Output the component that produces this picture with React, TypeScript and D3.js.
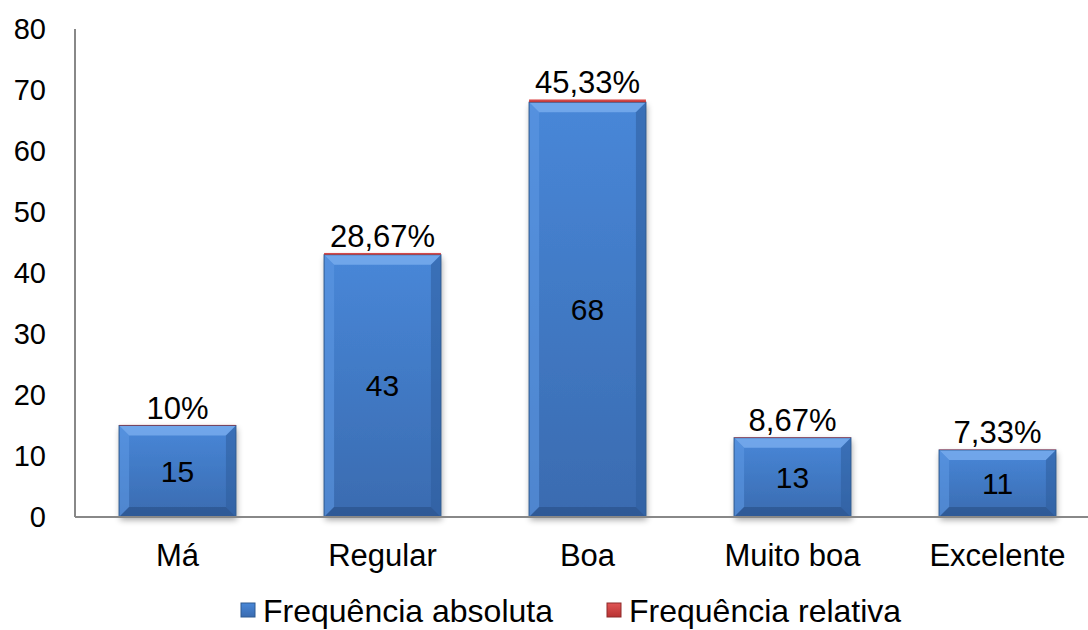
import React from "react";
import * as d3 from "d3";

const categories = ["Má", "Regular", "Boa", "Muito boa", "Excelente"];
const absoluteFreq = [15, 43, 68, 13, 11];
const relativeFreq = [0.1, 0.2867, 0.4533, 0.0867, 0.0733];
const relativeLabels = ["10%", "28,67%", "45,33%", "8,67%", "7,33%"];
const yTicks = [0, 10, 20, 30, 40, 50, 60, 70, 80];
const seriesNames = ["Frequência absoluta", "Frequência relativa"];

const W = 1088;
const H = 630;
const FONT = "'Liberation Sans', Arial, sans-serif";

export default function App() {
  const x = d3.scaleBand<string>().domain(categories).range([75, 1100]).paddingInner(0.43).paddingOuter(0.215);
  const y = d3.scaleLinear().domain([0, 80]).range([517, 29]);
  const bw = x.bandwidth();
  const bev = 10;

  return (
    <svg width={W} height={H} style={{ position: "absolute", left: 0, top: 0, background: "#fff" }}>
      <defs>
        <linearGradient id="blueFace" x1="0" y1="0" x2="0" y2="1">
          <stop offset="0" stopColor="#4887D8" />
          <stop offset="1" stopColor="#3A6BB0" />
        </linearGradient>
        <linearGradient id="redFace" x1="0" y1="0" x2="0" y2="1">
          <stop offset="0" stopColor="#E05555" />
          <stop offset="1" stopColor="#B83232" />
        </linearGradient>
        <filter id="shadow" x="-10%" y="-10%" width="120%" height="130%">
          <feGaussianBlur in="SourceAlpha" stdDeviation="3" />
          <feOffset dx="1" dy="3" result="b" />
          <feComponentTransfer><feFuncA type="linear" slope="0.35" /></feComponentTransfer>
          <feMerge><feMergeNode /><feMergeNode in="SourceGraphic" /></feMerge>
        </filter>
      </defs>

      {/* y axis ticks */}
      {yTicks.map((t) => (
        <text key={t} x={46} y={y(t)} textAnchor="end" dominantBaseline="central" fontFamily={FONT} fontSize={29} fill="#000">
          {t}
        </text>
      ))}
      <line x1={75} x2={75} y1={y(80)} y2={y(0)} stroke="#888" strokeWidth={2} />

      {/* bars */}
      {categories.map((c, i) => {
        const x0 = x(c)!;
        const x1 = x0 + bw;
        const yTop = y(absoluteFreq[i]);
        const yBase = y(0);
        const b = Math.min(bev, (yBase - yTop) / 2);
        const rTop = y(absoluteFreq[i] + relativeFreq[i]);
        return (
          <g key={c}>
            <g filter="url(#shadow)">
              <rect x={x0} y={yTop} width={bw} height={yBase - yTop} fill="url(#blueFace)" />
            </g>
            {/* bevel edges */}
            <polygon points={`${x0},${yTop} ${x1},${yTop} ${x1 - b},${yTop + b} ${x0 + b},${yTop + b}`} fill="#7DB0F0" opacity={0.75} />
            <polygon points={`${x0},${yTop} ${x0 + b},${yTop + b} ${x0 + b},${yBase - b} ${x0},${yBase}`} fill="#5E98E2" opacity={0.6} />
            <polygon points={`${x1},${yTop} ${x1 - b},${yTop + b} ${x1 - b},${yBase - b} ${x1},${yBase}`} fill="#2D5C9C" opacity={0.55} />
            <polygon points={`${x0},${yBase} ${x0 + b},${yBase - b} ${x1 - b},${yBase - b} ${x1},${yBase}`} fill="#284F86" opacity={0.6} />
            <rect x={x0} y={yTop} width={bw} height={yBase - yTop} fill="none" stroke="#2E5A92" strokeWidth={1} />
            {/* relative frequency segment */}
            <rect x={x0} y={rTop} width={bw} height={yTop - rTop} fill="url(#redFace)" />
            <text x={x0 + bw / 2} y={(yTop + yBase) / 2} textAnchor="middle" dominantBaseline="central" fontFamily={FONT} fontSize={30} fill="#000">
              {absoluteFreq[i]}
            </text>
            <text x={x0 + bw / 2} y={rTop - 6} textAnchor="middle" fontFamily={FONT} fontSize={31} fill="#000">
              {relativeLabels[i]}
            </text>
          </g>
        );
      })}

      {/* x axis */}
      <line x1={75} x2={W} y1={y(0)} y2={y(0)} stroke="#888" strokeWidth={2} />
      {categories.map((c) => (
        <text key={c} x={x(c)! + bw / 2} y={555} textAnchor="middle" dominantBaseline="central" fontFamily={FONT} fontSize={31} fill="#000">
          {c}
        </text>
      ))}

      {/* legend */}
      {seriesNames.map((s, i) => {
        const lx = i === 0 ? 241 : 607;
        return (
          <g key={s}>
            <rect x={lx} y={603} width={14} height={14} fill={i === 0 ? "url(#blueFace)" : "url(#redFace)"} stroke={i === 0 ? "#2E5A92" : "#8E2A2A"} strokeWidth={1} />
            <text x={lx + 22} y={611} dominantBaseline="central" fontFamily={FONT} fontSize={32} fill="#000">
              {s}
            </text>
          </g>
        );
      })}
    </svg>
  );
}
